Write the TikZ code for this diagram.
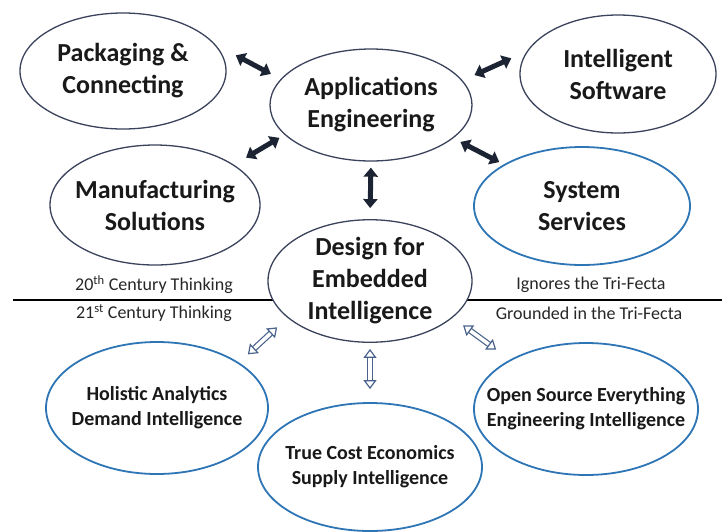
\documentclass[tikz,border=0pt]{standalone}
\usepackage{fontspec}
\setmainfont{Carlito}
\usetikzlibrary{shapes.geometric,arrows.meta}
\definecolor{rimgray}{RGB}{58,66,92}
\definecolor{rimblue}{RGB}{46,117,182}
\definecolor{arrowdark}{RGB}{28,36,52}
\definecolor{arrowpale}{RGB}{72,98,140}
\tikzstyle{bubble}=[ellipse,draw=rimgray,line width=1.3pt,fill=white,inner xsep=-30pt,inner ysep=0pt,align=center,font=\fontsize{26}{32}\selectfont\bfseries,text=black!90]
\tikzstyle{bluebubble}=[bubble,draw=rimblue,line width=1.8pt]
\tikzstyle{lowbubble}=[bluebubble,font=\fontsize{20}{25}\selectfont\bfseries]
\tikzstyle{side}=[font=\fontsize{18}{22}\selectfont,text=black!85]
\tikzstyle{link}=[draw=arrowdark,line width=5pt,{Triangle[width=14pt,length=9pt]}-{Triangle[width=14pt,length=9pt]}]
\tikzstyle{hollowlink}=[draw=arrowpale,line width=1.2pt,double=white,double distance=3.6pt,{Triangle[open,width=13pt,length=9pt]}-{Triangle[open,width=13pt,length=9pt]}]
\begin{document}
\begin{tikzpicture}[x=1pt,y=-1pt]
\useasboundingbox (0,0) rectangle (722,531);
\draw[line width=2.4pt] (13,300) -- (722,300);
\node[bubble,minimum width=206pt,minimum height=116pt] (pack) at (123,71) {Packaging \&\\Connecting};
\node[bubble,minimum width=202pt,minimum height=112pt] (app) at (371,105) {Applications\\Engineering};
\node[bubble,minimum width=196pt,minimum height=118pt] (intel) at (618,74) {Intelligent\\Software};
\node[bubble,minimum width=210pt,minimum height=120pt] (manu) at (155,205) {Manufacturing\\Solutions};
\node[bluebubble,minimum width=216pt,minimum height=118pt] (sys) at (582,206) {System\\Services};
\node[bubble,minimum width=204pt,minimum height=122pt] (design) at (370,281) {Design for\\Embedded\\Intelligence};
\node[lowbubble,minimum width=222pt,minimum height=132pt] (hol) at (157,408) {Holistic Analytics\\Demand Intelligence};
\node[lowbubble,minimum width=224pt,minimum height=128pt] (cost) at (370,467) {True Cost Economics\\Supply Intelligence};
\node[lowbubble,minimum width=224pt,minimum height=132pt] (open) at (586,409) {Open Source Everything\\Engineering Intelligence};
\node[side] (old-left) at (154,285) {20\textsuperscript{th} Century Thinking};
\node[side] (new-left) at (154,313) {21\textsuperscript{st} Century Thinking};
\node[side] (old-right) at (591,285) {Ignores the Tri-Fecta};
\node[side] (new-right) at (589,313) {Grounded in the Tri-Fecta};
\draw[link,shorten <=23pt,shorten >=11pt] (pack.16) -- (app.164);
\draw[link,shorten <=13pt,shorten >=17pt] (app.15) -- (intel.166);
\draw[link,shorten <=14pt,shorten >=6pt] (manu.27) -- (app.199);
\draw[link,shorten <=8pt,shorten >=5pt] (app.338) -- (sys.152);
\draw[link,shorten <=6pt,shorten >=11pt] (app.south) -- (design.north);
\draw[hollowlink,shorten <=12pt,shorten >=14pt] (hol.29) -- (design.204);
\draw[hollowlink,shorten <=6pt,shorten >=13pt] (design.south) -- (cost.north);
\draw[hollowlink,shorten <=13pt,shorten >=17pt] (design.336) -- (open.147);
\end{tikzpicture}
\end{document}
